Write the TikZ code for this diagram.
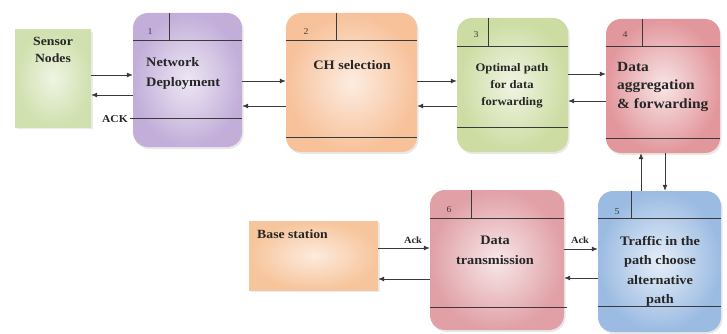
\documentclass[tikz,border=0pt]{standalone}
\usepackage{fontspec}
\setmainfont[FakeStretch=1.1]{Liberation Serif}
\usetikzlibrary{arrows.meta,shadows}
\definecolor{cpurple}{HTML}{C2AED9}
\definecolor{corange}{HTML}{F7C19A}
\definecolor{cgreen}{HTML}{CCDCA2}
\definecolor{cred}{HTML}{E2979C}
\definecolor{cblue}{HTML}{9BBBE2}
\definecolor{cpink}{HTML}{E0A0A6}
\definecolor{csensor}{HTML}{D0E0AE}
\definecolor{cbase}{HTML}{F7C59C}
\definecolor{cline}{HTML}{3A3A3A}
\tikzset{
  procbox/.style={draw=none, rounded corners=15pt, inner sep=0pt,
    drop shadow={opacity=0.18, shadow xshift=1.5pt, shadow yshift=-2pt}},
  plainbox/.style={draw=none, inner sep=0pt,
    drop shadow={opacity=0.15, shadow xshift=1.5pt, shadow yshift=-2pt}},
  sep/.style={draw=cline, line width=0.8pt},
  arr/.style={draw=cline, line width=0.8pt, -{Latex[length=6pt,width=5pt]}},
  txt/.style={inner sep=0pt, font=\bfseries, text=black!85},
  num/.style={inner sep=0pt, font=\fontsize{9}{10}\selectfont, text=black!75},
}
\begin{document}
\begin{tikzpicture}[x=1pt,y=-1pt]
\useasboundingbox (0,0) rectangle (727,334);

% boxes
\node[plainbox, inner color=csensor!35!white, outer color=csensor,
  minimum width=76pt, minimum height=97pt] (sn) at (53,78.5) {};
\node[plainbox, inner color=cbase!35!white, outer color=cbase,
  minimum width=129pt, minimum height=69pt] (bs) at (313.5,255.5) {};

\node[procbox, inner color=cpurple!30!white, outer color=cpurple,
  minimum width=109pt, minimum height=134pt] (b1) at (187.5,80) {};
\node[procbox, inner color=corange!30!white, outer color=corange,
  minimum width=131pt, minimum height=139pt] (b2) at (351.5,82.5) {};
\node[procbox, inner color=cgreen!30!white, outer color=cgreen,
  minimum width=111pt, minimum height=134pt] (b3) at (512.5,85) {};
\node[procbox, inner color=cred!25!white, outer color=cred,
  minimum width=114pt, minimum height=134pt] (b4) at (663,86) {};
\node[procbox, inner color=cblue!25!white, outer color=cblue,
  minimum width=123pt, minimum height=141pt] (b5) at (659.5,261.5) {};
\node[procbox, inner color=cpink!25!white, outer color=cpink,
  minimum width=134pt, minimum height=140pt] (b6) at (497,260) {};

% separators
\draw[sep] (b1.west |- 0,40) -- (b1.east |- 0,40);
\draw[sep] (169,0 |- b1.north) -- (169,40);
\draw[sep] (130,118) -- (b1.east |- 0,118);

\draw[sep] (b2.west |- 0,40) -- (b2.east |- 0,40);
\draw[sep] (336,0 |- b2.north) -- (336,40);
\draw[sep] (b2.west |- 0,137) -- (b2.east |- 0,137);

\draw[sep] (b3.west |- 0,46) -- (b3.east |- 0,46);
\draw[sep] (488,0 |- b3.north) -- (488,46);
\draw[sep] (b3.west |- 0,127) -- (b3.east |- 0,127);

\draw[sep] (b4.west |- 0,46) -- (b4.east |- 0,46);
\draw[sep] (642,0 |- b4.north) -- (642,46);
\draw[sep] (b4.west |- 0,138) -- (b4.east |- 0,138);

\draw[sep] (b5.west |- 0,218) -- (b5.east |- 0,218);
\draw[sep] (631,0 |- b5.north) -- (631,218);
\draw[sep] (b5.west |- 0,306) -- (b5.east |- 0,306);

\draw[sep] (b6.west |- 0,218) -- (b6.east |- 0,218);
\draw[sep] (471,0 |- b6.north) -- (471,218);
\draw[sep] (b6.west |- 0,307) -- (567,307);

% numbers
\node[num] (n1) at (150,32) {1};
\node[num] (n2) at (306,32) {2};
\node[num] (n3) at (476,35) {3};
\node[num] (n4) at (625,35) {4};
\node[num] (n5) at (617,212) {5};
\node[num] (n6) at (449,210) {6};

% texts
\node[txt, anchor=north, align=center, font=\bfseries\fontsize{12.5}{17}\selectfont] (tsn) at (53,37) {Sensor\\Nodes};
\node[txt, anchor=north west, align=left, font=\bfseries\fontsize{13}{20}\selectfont] (t1) at (146,57) {Network\\Deployment};
\node[txt, anchor=north, font=\bfseries\fontsize{13}{20}\selectfont] (t2) at (352,60) {CH selection};
\node[txt, anchor=north, align=center, font=\bfseries\fontsize{11.5}{17}\selectfont] (t3) at (512,63) {Optimal path\\for data\\forwarding};
\node[txt, anchor=north west, align=left, font=\bfseries\fontsize{14}{18.5}\selectfont] (t4) at (617,62) {Data\\aggregation\\\& forwarding};
\node[txt, anchor=north, align=center, font=\bfseries\fontsize{13}{19.5}\selectfont] (t5) at (660,236) {Traffic in the\\path choose\\alternative\\path};
\node[txt, anchor=north, align=center, font=\bfseries\fontsize{13}{20}\selectfont] (t6) at (495,236) {Data\\transmission};
\node[txt, anchor=north west, font=\bfseries\fontsize{12.5}{16}\selectfont] (tbs) at (257,230) {Base station};

% connectors
\draw[arr] (sn.east |- 0,75) -- (b1.west |- 0,75);
\draw[arr] (b1.west |- 0,95) -- (sn.east |- 0,95);
\node[txt, font=\bfseries\fontsize{10.5}{12}\selectfont, anchor=base east] (ack1) at (128,122) {ACK};

\draw[arr] (b1.east |- 0,81) -- (b2.west |- 0,81);
\draw[arr] (b2.west |- 0,106) -- (b1.east |- 0,106);

\draw[arr] (b2.east |- 0,81) -- (b3.west |- 0,81);
\draw[arr] (b3.west |- 0,106) -- (b2.east |- 0,106);

\draw[arr] (b3.east |- 0,74) -- (b4.west |- 0,74);
\draw[arr] (b4.west |- 0,101) -- (b3.east |- 0,101);

\draw[arr] (641,0 |- b5.north) -- (641,0 |- b4.south);
\draw[arr] (665,0 |- b4.south) -- (665,0 |- b5.north);

\draw[arr] (b6.east |- 0,249) -- (b5.west |- 0,249);
\draw[arr] (b5.west |- 0,278) -- (b6.east |- 0,278);
\node[txt, font=\bfseries\fontsize{9.5}{11}\selectfont, anchor=base] (ack3) at (580,243) {Ack};

\draw[arr] (bs.east |- 0,248) -- (b6.west |- 0,248);
\draw[arr] (b6.west |- 0,279) -- (bs.east |- 0,279);
\node[txt, font=\bfseries\fontsize{9.5}{11}\selectfont, anchor=base] (ack2) at (413,243) {Ack};
\end{tikzpicture}
\end{document}
